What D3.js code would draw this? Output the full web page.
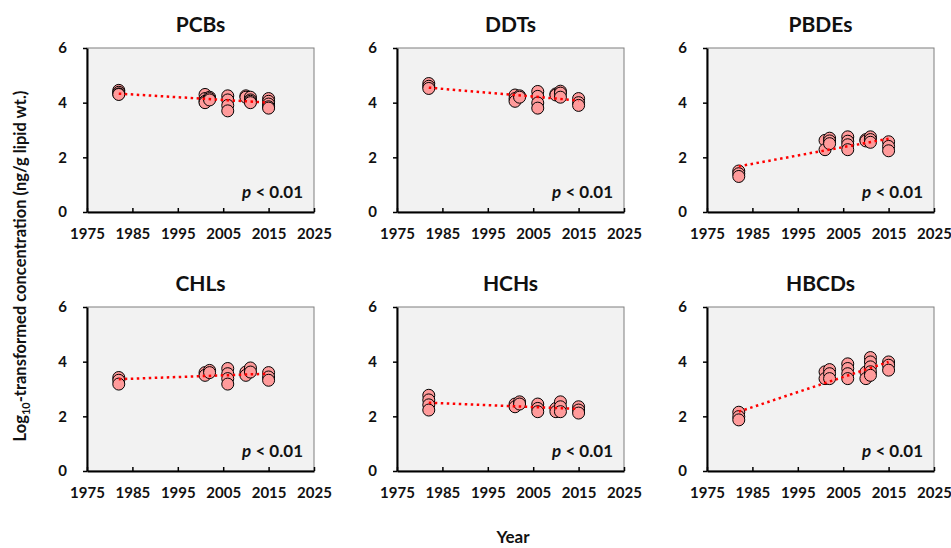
<!DOCTYPE html>
<html>
<head>
<meta charset="utf-8">
<script src="https://cdn.jsdelivr.net/npm/d3@7"></script>
<style>
  body { margin: 0; background: #fff; }
  svg text { font-family: Lato, "Open Sans", sans-serif; font-weight: bold; fill: #111; }
</style>
</head>
<body>
<svg id="chart" width="951" height="548"></svg>
<script>
// sampling years and compound groups
var years = [1982, 2001, 2002, 2006, 2010, 2011, 2015];
var groups = ["PCBs", "DDTs", "PBDEs", "CHLs", "HCHs", "HBCDs"];
var xTicks = [1975, 1985, 1995, 2005, 2015, 2025];
var yTicks = [0, 2, 4, 6];

// log10 concentrations, one list per year (same order as years)
var pcbs  = [[4.45, 4.38, 4.32, 4.3], [4.3, 4.15, 4.05, 4.0], [4.2, 4.15, 4.1], [4.25, 4.1, 3.9, 3.7], [4.25, 4.2], [4.2, 4.1, 4.05, 4.0], [4.15, 4.05, 3.95, 3.85, 3.8]];
var ddts  = [[4.7, 4.6, 4.52], [4.28, 4.15, 4.05], [4.25, 4.2], [4.41, 4.23, 3.99, 3.8], [4.32, 4.28], [4.42, 4.35, 4.2], [4.15, 4.0, 3.9]];
var pbdes = [[1.5, 1.4, 1.3], [2.62, 2.28], [2.7, 2.6, 2.5], [2.75, 2.59, 2.46, 2.28], [2.65, 2.6], [2.75, 2.65, 2.55], [2.57, 2.4, 2.24]];
var chls  = [[3.42, 3.32, 3.18], [3.6, 3.5], [3.68, 3.6], [3.75, 3.56, 3.38, 3.18], [3.62, 3.5], [3.77, 3.62], [3.6, 3.44, 3.32]];
var hchs  = [[2.77, 2.6, 2.42, 2.23], [2.45, 2.35], [2.53, 2.45], [2.45, 2.29, 2.17], [2.29, 2.17], [2.53, 2.35, 2.17], [2.35, 2.23, 2.12]];
var hbcds = [[2.15, 1.99, 1.87], [3.63, 3.38], [3.71, 3.56, 3.38], [3.92, 3.75, 3.56, 3.38], [3.62, 3.38], [4.15, 3.99, 3.81, 3.63, 3.5], [3.99, 3.87, 3.69]];
var allValues = [pcbs, ddts, pbdes, chls, hchs, hbcds];

// dotted trend line ends (value at 1982, value at 2015)
var trendStart = [4.33, 4.55, 1.67, 3.36, 2.5, 2.17];
var trendEnd   = [4.0, 4.08, 2.68, 3.56, 2.27, 3.99];
var pLabel = "< 0.01";

var svg = d3.select("#chart");
var panelW = 227, panelH = 164;
var lefts = [87, 397, 707];
var tops = [48, 307];

var x = d3.scaleLinear().domain([1975, 2025]).range([0, panelW]);
var y = d3.scaleLinear().domain([0, 6]).range([panelH, 0]);

function drawPanel(i)
{
  var g = svg.append("g")
    .attr("transform", "translate(" + lefts[i % 3] + "," + tops[Math.floor(i / 3)] + ")");

  g.append("rect")
    .attr("width", panelW).attr("height", panelH)
    .attr("fill", "#f2f2f2")
    .attr("stroke", "#7f7f7f").attr("stroke-width", 1);

  // axes
  var xa = g.append("g").attr("transform", "translate(0," + panelH + ")")
    .call(d3.axisBottom(x).tickValues(xTicks).tickFormat(d3.format("d")).tickSizeInner(-4).tickSizeOuter(0).tickPadding(16));
  var ya = g.append("g")
    .call(d3.axisLeft(y).tickValues(yTicks).tickFormat(d3.format("d")).tickSizeInner(4).tickSizeOuter(0).tickPadding(16));
  [xa, ya].forEach(function (a) {
    a.select(".domain").attr("stroke", "#000").attr("stroke-width", 2);
    a.selectAll(".tick line").attr("stroke", "#000").attr("stroke-width", 1.5);
    a.selectAll(".tick text").attr("font-size", 15).attr("fill", "#111")
      .style("font-family", "Lato, sans-serif").style("font-weight", "bold");
  });

  // points
  var pts = [];
  allValues[i].forEach(function (vals, j) {
    vals.forEach(function (v) { pts.push({year: years[j], v: v}); });
  });
  g.selectAll("circle").data(pts).enter().append("circle")
    .attr("cx", function (d) { return x(d.year); })
    .attr("cy", function (d) { return y(d.v); })
    .attr("r", 6)
    .attr("fill", "#ff9b9b")
    .attr("stroke", "#000").attr("stroke-width", 1);

  // trend
  g.append("line")
    .attr("x1", x(years[0])).attr("y1", y(trendStart[i]))
    .attr("x2", x(years[years.length - 1])).attr("y2", y(trendEnd[i]))
    .attr("stroke", "#ff0000").attr("stroke-width", 2.5)
    .attr("stroke-dasharray", "2.5,3.5");

  // title
  svg.append("text")
    .attr("x", lefts[i % 3] + panelW / 2)
    .attr("y", tops[Math.floor(i / 3)] - 16)
    .attr("text-anchor", "middle")
    .attr("font-size", 21)
    .text(groups[i]);

  // p value
  var pt = g.append("text")
    .attr("x", panelW - 11).attr("y", panelH - 14)
    .attr("text-anchor", "end")
    .attr("font-size", 17);
  pt.append("tspan").attr("font-style", "italic").text("p");
  pt.append("tspan").text(" " + pLabel);
}

for (var i = 0; i < groups.length; i++) drawPanel(i);

// shared axis titles
var yl = svg.append("text")
  .attr("transform", "translate(26,266) rotate(-90)")
  .attr("text-anchor", "middle")
  .attr("font-size", 16.5);
yl.append("tspan").text("Log");
yl.append("tspan").attr("font-size", 11).attr("dy", 4).text("10");
yl.append("tspan").attr("dy", -4).text("-transformed concentration (ng/g lipid wt.)");

svg.append("text")
  .attr("x", 513).attr("y", 543)
  .attr("text-anchor", "middle")
  .attr("font-size", 17)
  .text("Year");
</script>
</body>
</html>
